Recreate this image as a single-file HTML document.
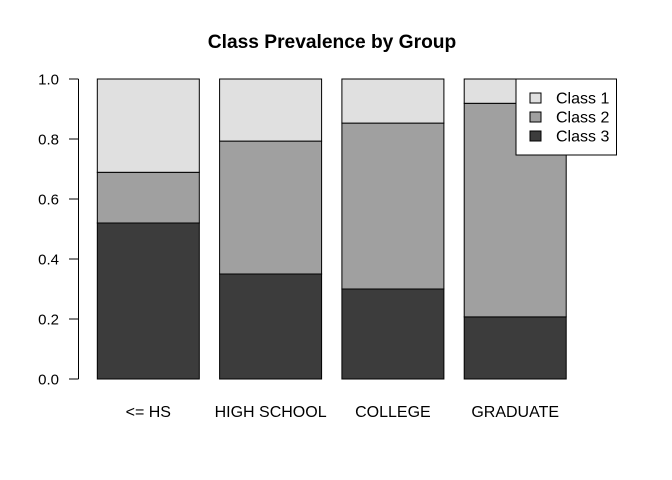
<!DOCTYPE html>
<html><head><meta charset="utf-8"><style>
body{margin:0;background:#fff}
svg{display:block;font-family:"Liberation Sans",Arial,sans-serif}
</style></head><body>
<svg id="chart" width="672" height="480" viewBox="0 0 672 480">
<text x="332" y="48" text-anchor="middle" font-size="19.2" font-weight="bold">Class Prevalence by Group</text>
<g id="yaxis"></g>
<g id="bars"></g>
<g id="xlabels"></g>
<g id="legend"></g>
</svg>
<script>
const categories = ["<= HS", "HIGH SCHOOL", "COLLEGE", "GRADUATE"];
const class3 = [0.52, 0.35, 0.30, 0.207];
const class2 = [0.169, 0.443, 0.553, 0.712];
const class1 = [0.311, 0.207, 0.147, 0.081];
const yTicks = [0, 0.2, 0.4, 0.6, 0.8, 1.0];
const yTickLabels = ["0.0", "0.2", "0.4", "0.6", "0.8", "1.0"];
const seriesNames = ["Class 1", "Class 2", "Class 3"];

const NS = "http://www.w3.org/2000/svg";
const y = v => 379 - v * 300;
const barX = i => 97.3 + i * 122.3;
const barW = 102;
function mk(tag, attrs, parent) {
  const e = document.createElementNS(NS, tag);
  for (const k in attrs) e.setAttribute(k, attrs[k]);
  parent.appendChild(e);
  return e;
}
const ya = document.getElementById("yaxis");
let axl = mk("line", {x1: 78.5, x2: 78.5, y1: y(0), y2: y(1), stroke: "#000"}, ya);


yTicks.forEach((t, i) => {
  const tk = mk("line", {x1: 69, x2: 78.5, y1: y(t), y2: y(t), stroke: "#000"}, ya);
  
  
  const tx = mk("text", {x: 59, y: y(t) + 5.5, "text-anchor": "end", "font-size": 15}, ya);
  tx.textContent = yTickLabels[i];
  
  
});
const colors = ["#e0e0e0", "#a0a0a0", "#3c3c3c"];
const bg = document.getElementById("bars");
const xl = document.getElementById("xlabels");
categories.forEach((c, i) => {
  const segs = [[class3[i], colors[2], "class3"], [class2[i], colors[1], "class2"], [class1[i], colors[0], "class1"]];
  let base = 0;
  segs.forEach(s => {
    const r = mk("rect", {x: barX(i), y: y(base + s[0]), width: barW, height: s[0] * 300, fill: s[1], stroke: "#000", "stroke-width": 1}, bg);
    
    
    base += s[0];
  });
  const t = mk("text", {x: barX(i) + barW / 2, y: 417, "text-anchor": "middle", "font-size": 16}, xl);
  t.textContent = c;
  
  
});
const lg = document.getElementById("legend");
const lb = mk("rect", {x: 516, y: 79, width: 100.5, height: 76, fill: "#fff", stroke: "#000"}, lg);


seriesNames.forEach((n, i) => {
  const cy = 98 + i * 19;
  const sw = mk("rect", {x: 530, y: cy - 5, width: 11, height: 10, fill: colors[i], stroke: "#000"}, lg);
  
  
  const t = mk("text", {x: 556, y: cy + 5.5, "font-size": 16}, lg);
  t.textContent = n;
  
  
});
</script>
</body></html>
